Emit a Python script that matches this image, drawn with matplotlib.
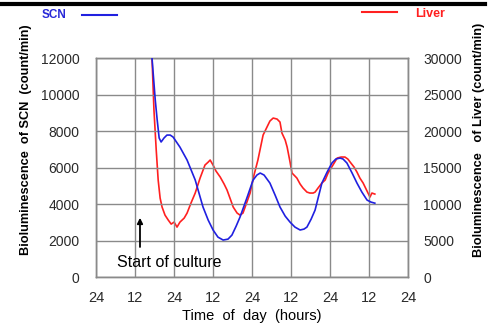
import matplotlib
matplotlib.use("Agg")
import matplotlib.pyplot as plt
from matplotlib.lines import Line2D

plt.rcParams['font.family'] = ['Liberation Sans', 'DejaVu Sans']

# Time axis (hours since the first 24h mark) and tick labels
x_ticks = [0, 12, 24, 36, 48, 60, 72, 84, 96]
x_labels = ["24", "12", "24", "12", "24", "12", "24", "12", "24"]

# SCN bioluminescence (count/min), left axis
scn_t = [16.5, 17.2, 18.2, 18.8, 19.4, 20.0, 20.9, 21.8, 22.8, 23.7, 25.8, 28.0,
         30.5, 32.9, 34.5, 36.0, 37.5, 39.1, 40.6, 41.8, 43.1, 44.3, 46.5, 48.3,
         49.5, 50.5, 51.7, 53.5, 55.1, 56.6, 58.2, 59.7, 61.2, 62.8, 64.0, 64.9,
         66.2, 67.4, 69.5, 71.1, 72.6, 73.8, 75.1, 76.0, 77.2, 78.8, 80.3, 81.8,
         83.4, 84.6, 85.8]
scn_v = [13500, 12000, 9700, 8600, 7620, 7400, 7620, 7780, 7780, 7670, 7120, 6410,
         5320, 3840, 3120, 2580, 2190, 2030, 2080, 2300, 2790, 3290, 4380, 5310,
         5590, 5700, 5590, 5150, 4490, 3840, 3340, 3010, 2740, 2580, 2630, 2740,
         3180, 3670, 5150, 5750, 6250, 6470, 6520, 6470, 6250, 5700, 5150, 4660,
         4220, 4110, 4050]

# Liver bioluminescence (count/min), right axis
liver_t = [16.5, 17.2, 17.8, 18.5, 19.1, 19.7, 20.3, 21.2, 22.2, 23.1, 24.0, 24.9,
           25.8, 27.1, 28.0, 29.2, 30.5, 32.0, 33.5, 34.5, 35.1, 36.0, 36.9, 38.2,
           39.4, 40.3, 41.2, 42.2, 43.4, 44.3, 45.2, 46.2, 47.4, 48.6, 49.8, 51.4,
           52.6, 53.5, 54.5, 55.7, 56.6, 57.2, 58.2, 58.8, 59.7, 60.3, 61.2, 61.8,
           62.8, 63.7, 64.9, 65.8, 66.8, 67.4, 68.3, 69.5, 70.5, 71.4, 72.9, 74.2,
           75.4, 76.6, 77.5, 78.2, 79.4, 80.3, 81.2, 82.2, 83.4, 84.3, 84.9, 85.8]
liver_v = [33000, 30000, 22880, 17400, 13290, 10820, 9590, 8490, 7810, 7260, 7530, 6850,
           7530, 8080, 8770, 10140, 11510, 13560, 15340, 15750, 16030, 15340, 14520, 13700,
           12740, 11920, 10820, 9590, 8770, 8490, 8770, 10000, 11510, 13970, 16030, 19450,
           20550, 21370, 21780, 21640, 21230, 19730, 18770, 17810, 15750, 14250, 13840, 13560,
           12740, 12190, 11640, 11510, 11510, 11640, 12190, 12880, 13290, 14250, 15340, 16300,
           16440, 16440, 16160, 15750, 15070, 14380, 13560, 12880, 11780, 10960, 11510, 11370]

scn_ticks = [0, 2000, 4000, 6000, 8000, 10000, 12000]
liver_ticks = [0, 5000, 10000, 15000, 20000, 25000, 30000]

fig = plt.figure(figsize=(4.88, 3.26), dpi=100)
ax = fig.add_axes([0.197, 0.150, 0.639, 0.672])
ax2 = ax.twinx()

grid_c = "#8a8a8a"
tick_c = "#2a2a2a"
ax.set_xlim(0, 96)
ax.set_ylim(0, 12000)
ax2.set_ylim(0, 30000)
ax.set_xticks(x_ticks)
ax.set_xticklabels(x_labels)
ax.set_yticks(scn_ticks)
ax.set_yticklabels([str(v) for v in scn_ticks])
ax2.set_yticks(liver_ticks)
ax2.set_yticklabels([str(v) for v in liver_ticks])
ax.grid(True, color=grid_c, linewidth=1.0)
for a in (ax, ax2):
    for s in a.spines.values():
        s.set_color(grid_c)
        s.set_linewidth(1.0)
ax.tick_params(axis='x', length=0, pad=10, labelsize=10.5, colors=tick_c)
ax.tick_params(axis='y', length=0, pad=12, labelsize=10, colors=tick_c)
ax2.tick_params(axis='y', length=0, pad=11, labelsize=10, colors=tick_c)

ax2.plot(liver_t, liver_v, color="#ff2020", linewidth=1.2, clip_on=True, zorder=3)
ax.plot(scn_t, scn_v, color="#2020e0", linewidth=1.2, clip_on=True, zorder=4)
ax.set_zorder(ax2.get_zorder() + 1)
ax.patch.set_visible(False)

# Culture start marker
ax.annotate("", xy=(13.5, 3250), xytext=(13.5, 1650),
            arrowprops=dict(arrowstyle="-|>", color="black", lw=1.3,
                            mutation_scale=8, shrinkA=0, shrinkB=0))
ax.text(6.5, 820, "Start of culture", fontsize=11.5, ha="left", va="center")

ax.set_xlabel("Time  of  day  (hours)", fontsize=10.5, labelpad=3)

fig.text(26 / 488, 1 - 140 / 326, "Bioluminescence  of SCN  (count/min)",
         rotation=90, ha="center", va="center", fontsize=9.2, fontweight="bold")
fig.text(479 / 488, 1 - 140 / 326, "Bioluminescence   of Liver (count/min)",
         rotation=90, ha="center", va="center", fontsize=9.2, fontweight="bold")

# Legend entries above the plot
fig.text(42 / 488, 1 - 15 / 326, "SCN", color="#2828d8", fontsize=8.5,
         fontweight="bold", ha="left", va="center")
fig.add_artist(Line2D([82 / 488, 117 / 488], [1 - 15 / 326, 1 - 15 / 326],
                      color="#2020e0", linewidth=1.5))
fig.text(415 / 488, 1 - 14 / 326, "Liver", color="#ff2020", fontsize=9,
         fontweight="bold", ha="left", va="center")
fig.add_artist(Line2D([362 / 488, 397 / 488], [1 - 12 / 326, 1 - 12 / 326],
                      color="#ff2020", linewidth=1.5))

# Heavy rule along the top edge
fig.add_artist(Line2D([0, 485 / 488], [1 - 4 / 326, 1 - 4 / 326],
                      color="black", linewidth=3))

fig.savefig("out.png", dpi=100)
